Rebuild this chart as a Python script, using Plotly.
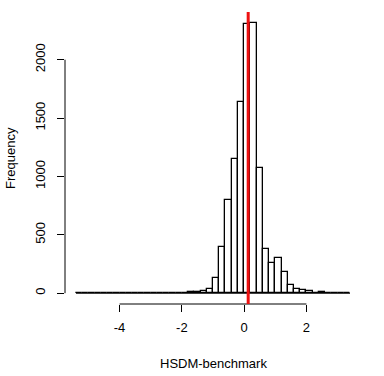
import plotly.graph_objects as go

# histogram of HSDM - benchmark, bins of width 0.2 from -5.4 to 3.4
bin_start = -5.4
bin_width = 0.2
counts = [
    1, 0, 0, 0, 0, 0, 0, 0, 0, 0,      # -5.4 .. -3.4
    0, 0, 0, 0, 0, 0, 0, 0,            # -3.4 .. -1.8
    8, 8, 17, 34, 129, 394, 798, 1149, 1638,   # -1.8 .. 0.0
    2307, 2316, 1072, 377, 257, 300, 180, 69, 34, 26, 17,  # 0.0 .. 2.2
    0, 8, 0, 0, 0, 0,                  # 2.2 .. 3.4
]
mean_line = 0.13

x_ticks = [-4, -2, 0, 2]
x_ticktext = ["-4", "-2", "0", "2"]
y_ticks = [0, 500, 1000, 1500, 2000]

centers = [bin_start + bin_width * (i + 0.5) for i in range(len(counts))]
bin_end = bin_start + bin_width * len(counts)

font = dict(family="Liberation Sans, Arial", size=13, color="black")

fig = go.Figure()
fig.add_trace(go.Bar(
    x=centers, y=counts, width=bin_width,
    marker=dict(color="white", line=dict(color="black", width=1.3)),
    showlegend=False,
))

# R style: extend ranges by 4%
span = bin_end - bin_start
xr = [bin_start - 0.04 * span, bin_end + 0.04 * span]
ymax = max(counts)
yr = [-0.04 * ymax, ymax * 1.04]

fig.update_layout(
    width=384, height=376,
    margin=dict(l=65, r=23, t=12, b=72),
    plot_bgcolor="white", paper_bgcolor="white",
    font=font, bargap=0,
    xaxis=dict(range=xr, tickvals=x_ticks, ticktext=x_ticktext,
               ticks="outside", ticklen=7, tickcolor="black", tickwidth=1,
               showgrid=False, zeroline=False, showline=False,
               ticklabelstandoff=4),
    yaxis=dict(range=yr, tickvals=y_ticks, tickangle=-90,
               ticks="outside", ticklen=7, tickcolor="black", tickwidth=1,
               showgrid=False, zeroline=False, showline=False,
               ticklabelstandoff=7),
    shapes=[
        # axis lines spanning first to last tick, like base R
        dict(type="line", xref="x", yref="paper", x0=x_ticks[0], x1=x_ticks[-1],
             y0=0, y1=0, line=dict(color="black", width=1)),
        dict(type="line", xref="paper", yref="y", x0=0, x1=0,
             y0=y_ticks[0], y1=y_ticks[-1], line=dict(color="black", width=1)),
        # zero-height bars drawn as baseline
        dict(type="line", xref="x", yref="y", x0=bin_start, x1=bin_end,
             y0=0, y1=0, line=dict(color="black", width=1.2), layer="below"),
        dict(type="line", xref="x", yref="paper", x0=mean_line, x1=mean_line,
             y0=0, y1=1, line=dict(color="#EE1111", width=3)),
    ],
    annotations=[
        dict(text="HSDM-benchmark", xref="paper", yref="paper", x=0.5, y=0,
             yanchor="middle", yshift=-59, showarrow=False, font=font),
        dict(text="Frequency", xref="paper", yref="paper", x=0, y=0.5,
             xanchor="center", xshift=-55, textangle=-90, showarrow=False, font=font),
    ],
)

fig.write_html("out.html", config={"displayModeBar": False},
               post_script="document.body.style.margin='0';")
